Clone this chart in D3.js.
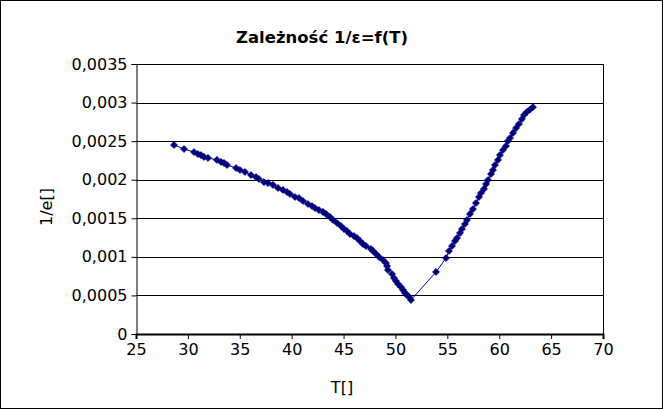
<!DOCTYPE html>
<html><head><meta charset="utf-8">
<script src="https://cdn.jsdelivr.net/npm/d3@7"></script>
<style>body{margin:0;background:#fff}svg{display:block}text{font-family:"DejaVu Sans",sans-serif}</style>
</head><body>
<script>
const title = "Zależność 1/ε=f(T)";
const xLabel = "T[]";
const yLabel = "1/e[]";
const xTicks = [25,30,35,40,45,50,55,60,65,70];
const yTicks = [0,0.0005,0.001,0.0015,0.002,0.0025,0.003,0.0035];
const T = [28.66,29.63,30.59,30.97,31.26,31.55,31.94,32.80,33.19,33.48,33.77,34.64,35.02,35.50,36.08,36.56,36.85,37.33,37.72,38.20,38.68,39.16,39.55,39.84,40.32,40.71,41.09,41.57,41.96,42.25,42.63,43.02,43.31,43.69,43.98,44.37,44.75,45.04,45.33,45.62,46.01,46.30,46.58,46.87,47.16,47.64,47.84,48.13,48.42,48.80,49.09,49.19,49.28,49.67,49.86,50.05,50.25,50.53,50.73,50.92,51.11,51.31,51.50,
 53.91,54.87,55.16,55.45,55.74,55.93,56.22,56.41,56.70,56.89,57.18,57.47,57.76,58.05,58.24,58.53,58.73,58.92,59.21,59.40,59.59,59.88,60.07,60.36,60.65,60.84,61.04,61.33,61.62,61.90,62.19,62.39,62.68,62.97,63.25];
const invEps = [2.450,2.398,2.359,2.333,2.320,2.295,2.282,2.256,2.230,2.217,2.191,2.152,2.126,2.100,2.061,2.035,2.009,1.970,1.957,1.932,1.893,1.867,1.841,1.815,1.776,1.763,1.724,1.685,1.659,1.633,1.607,1.582,1.556,1.517,1.478,1.439,1.400,1.361,1.335,1.296,1.270,1.244,1.206,1.167,1.141,1.102,1.076,1.037,0.998,0.959,0.920,0.881,0.830,0.778,0.726,0.687,0.648,0.609,0.570,0.531,0.506,0.480,0.441,
 0.804,0.985,1.076,1.141,1.206,1.244,1.309,1.361,1.426,1.478,1.556,1.620,1.698,1.776,1.828,1.880,1.944,1.996,2.074,2.126,2.191,2.256,2.320,2.385,2.437,2.502,2.541,2.606,2.670,2.722,2.787,2.840,2.880,2.910,2.940].map(v=>v/1000);

const W=663,H=409;
const svg=d3.select("body").append("svg").attr("width",W).attr("height",H);
svg.append("rect").attr("x",0.5).attr("y",0.5).attr("width",W-1).attr("height",H-1).attr("fill","#fff").attr("stroke","#000");
const L=136,R=603,Tp=64,B=334;
const x=d3.scaleLinear().domain([25,70]).range([L,R]);
const y=d3.scaleLinear().domain([0,0.0035]).range([B,Tp]);
const fmt=v=>String(+v.toFixed(4)).replace(".",",");

svg.append("g").selectAll("line").data(yTicks.slice(1)).join("line")
 .attr("x1",L).attr("x2",R).attr("y1",d=>Math.round(y(d))+0.5).attr("y2",d=>Math.round(y(d))+0.5).attr("stroke","#000");
svg.append("line").attr("x1",R+0.5).attr("x2",R+0.5).attr("y1",Tp).attr("y2",B).attr("stroke","#000");

const fs=16;
const yAxis=svg.append("g").attr("transform",`translate(${L+0.5},0)`)
 .call(d3.axisLeft(y).tickValues(yTicks).tickFormat(fmt).tickSize(5).tickPadding(4));
yAxis.select(".domain").attr("stroke","#000");
yAxis.selectAll("text").attr("font-size",fs).attr("fill","#000").attr("font-family","DejaVu Sans");
const xAxis=svg.append("g").attr("transform",`translate(0,${B})`)
 .call(d3.axisBottom(x).tickValues(xTicks).tickFormat(d=>d).tickSize(5).tickPadding(5));
xAxis.select(".domain").attr("stroke","#000").attr("stroke-width",2);
xAxis.selectAll("text").attr("font-size",fs).attr("fill","#000").attr("font-family","DejaVu Sans");

const pts=T.map((t,i)=>[t,invEps[i]]);
svg.append("path").datum(pts).attr("fill","none").attr("stroke","#000080").attr("stroke-width",1)
 .attr("d",d3.line().x(d=>x(d[0])).y(d=>y(d[1])));
const s=3.6;
svg.append("g").selectAll("path").data(pts).join("path")
 .attr("transform",d=>`translate(${x(d[0])},${y(d[1])})`)
 .attr("d",`M0,${-s}L${s},0L0,${s}L${-s},0Z`).attr("fill","#000080").attr("stroke","#000080").attr("stroke-width",0.5);

svg.append("text").attr("x",322).attr("y",43).attr("text-anchor","middle").attr("font-weight","bold").attr("font-size",16.5).text(title);
svg.append("text").attr("x",342).attr("y",393).attr("text-anchor","middle").attr("font-size",fs).text(xLabel);
svg.append("text").attr("transform","translate(52,207) rotate(-90)").attr("text-anchor","middle").attr("font-size",fs).text(yLabel);
</script>
</body></html>
